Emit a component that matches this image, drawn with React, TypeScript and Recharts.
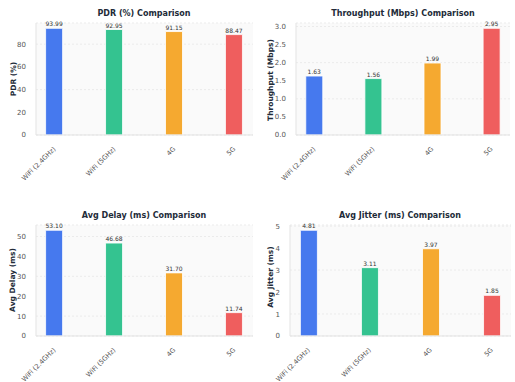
import React from 'react';
import { BarChart, Bar, XAxis, YAxis, CartesianGrid, LabelList, Cell } from 'recharts';

const categories = ['WiFi (2.4GHz)', 'WiFi (5GHz)', '4G', '5G'];
const pdr = [93.99, 92.95, 91.15, 88.47];
const throughput = [1.63, 1.56, 1.99, 2.95];
const delay = [53.1, 46.68, 31.7, 11.74];
const jitter = [4.81, 3.11, 3.97, 1.85];
const colors = ['#4679EE', '#34C390', '#F5A930', '#EF5E5E'];

const pdrTicks = [0, 20, 40, 60, 80];
const throughputTicks = [0, 0.5, 1, 1.5, 2, 2.5, 3];
const delayTicks = [0, 10, 20, 30, 40, 50];
const jitterTicks = [0, 1, 2, 3, 4, 5];

const FONT = 'DejaVu Sans, sans-serif';

type PanelProps = {
  values: number[];
  ticks: number[];
  decimals: number;
  left: number;
  top: number;
  width: number;
  height: number;
  margin: { top: number; right: number; left: number; bottom: number };
  yWidth: number;
  xHeight: number;
};

const XTick = (props: any) => {
  const { x, y, payload } = props;
  const label = categories[payload.value];
  if (label === undefined) return null;
  const ax = x;
  const ay = y + 5;
  return (
    <text
      x={ax}
      y={ay}
      transform={`rotate(-45, ${ax}, ${ay})`}
      textAnchor="end"
      dominantBaseline="central"
      fontSize={6.6}
      fill="#555"
      fontFamily={FONT}
    >
      {label}
    </text>
  );
};

function Panel(p: PanelProps) {
  const data = p.values.map((v, i) => ({ idx: i, value: v }));
  const maxV = Math.max(...p.values) * 1.05;
  return (
    <div style={{ position: 'absolute', left: p.left, top: p.top }}>
      <BarChart width={p.width} height={p.height} data={data} margin={p.margin}>
        <CartesianGrid
          vertical={false}
          stroke="#ebebeb"
          strokeDasharray="2 2"
          fill="#fafafa"
        />
        <XAxis
          dataKey="idx"
          type="number"
          domain={[-0.31, 3.31]}
          ticks={[0, 1, 2, 3]}
          height={p.xHeight}
          tick={<XTick />}
          tickLine={false}
          axisLine={{ stroke: '#e3e3e3' }}
          interval={0}
          allowDataOverflow
        />
        <YAxis
          type="number"
          domain={[0, maxV]}
          ticks={p.ticks}
          width={p.yWidth}
          tickLine={false}
          axisLine={{ stroke: '#e3e3e3' }}
          tick={{ fontSize: 7, fill: '#555', fontFamily: FONT }}
          tickFormatter={(v: number) => v.toFixed(p.decimals)}
          tickMargin={4}
          allowDataOverflow
        />
        <Bar dataKey="value" barSize={17} isAnimationActive={false} stroke="#ffffff" strokeWidth={0.8}>
          {data.map((d, i) => (
            <Cell key={i} fill={colors[i]} />
          ))}
          <LabelList
            dataKey="value"
            position="top"
            offset={2}
            formatter={(v: any) => Number(v).toFixed(2)}
            style={{ fontSize: 6, fill: '#333', fontFamily: FONT }}
          />
        </Bar>
      </BarChart>
    </div>
  );
}

export default function App() {
  return (
    <div style={{ position: 'absolute', left: 0, top: 0, width: 515, height: 382, background: '#fff' }}>
      <Panel values={pdr} ticks={pdrTicks} decimals={0} left={0} top={0} width={258} height={190}
        margin={{ top: 23, right: 5, left: 0, bottom: 0 }} yWidth={36} xHeight={55} />
      <Panel values={throughput} ticks={throughputTicks} decimals={1} left={258} top={0} width={257} height={190}
        margin={{ top: 23, right: 5, left: 0, bottom: 0 }} yWidth={38} xHeight={55} />
      <Panel values={delay} ticks={delayTicks} decimals={0} left={0} top={190} width={258} height={192}
        margin={{ top: 35, right: 5, left: 0, bottom: 0 }} yWidth={36} xHeight={46} />
      <Panel values={jitter} ticks={jitterTicks} decimals={0} left={258} top={190} width={257} height={192}
        margin={{ top: 35, right: 4, left: 0, bottom: 0 }} yWidth={32} xHeight={46} />
      <svg width={515} height={382} style={{ position: 'absolute', left: 0, top: 0, pointerEvents: 'none' }}>
        <g fontFamily={FONT} fontWeight="bold" fill="#222b38">
          <text x={144} y={16} fontSize={8} textAnchor="middle">PDR (%) Comparison</text>
          <text x={403} y={16} fontSize={8} textAnchor="middle">Throughput (Mbps) Comparison</text>
          <text x={144} y={218} fontSize={8} textAnchor="middle">Avg Delay (ms) Comparison</text>
          <text x={400} y={218} fontSize={8} textAnchor="middle">Avg Jitter (ms) Comparison</text>
          <text x={16} y={79} fontSize={7.5} textAnchor="middle" transform="rotate(-90, 16, 79)">PDR (%)</text>
          <text x={273} y={80} fontSize={7.5} textAnchor="middle" transform="rotate(-90, 273, 80)">Throughput (Mbps)</text>
          <text x={15} y={280} fontSize={7.5} textAnchor="middle" transform="rotate(-90, 15, 280)">Avg Delay (ms)</text>
          <text x={273} y={277} fontSize={7.5} textAnchor="middle" transform="rotate(-90, 273, 277)">Avg Jitter (ms)</text>
        </g>
      </svg>
    </div>
  );
}
